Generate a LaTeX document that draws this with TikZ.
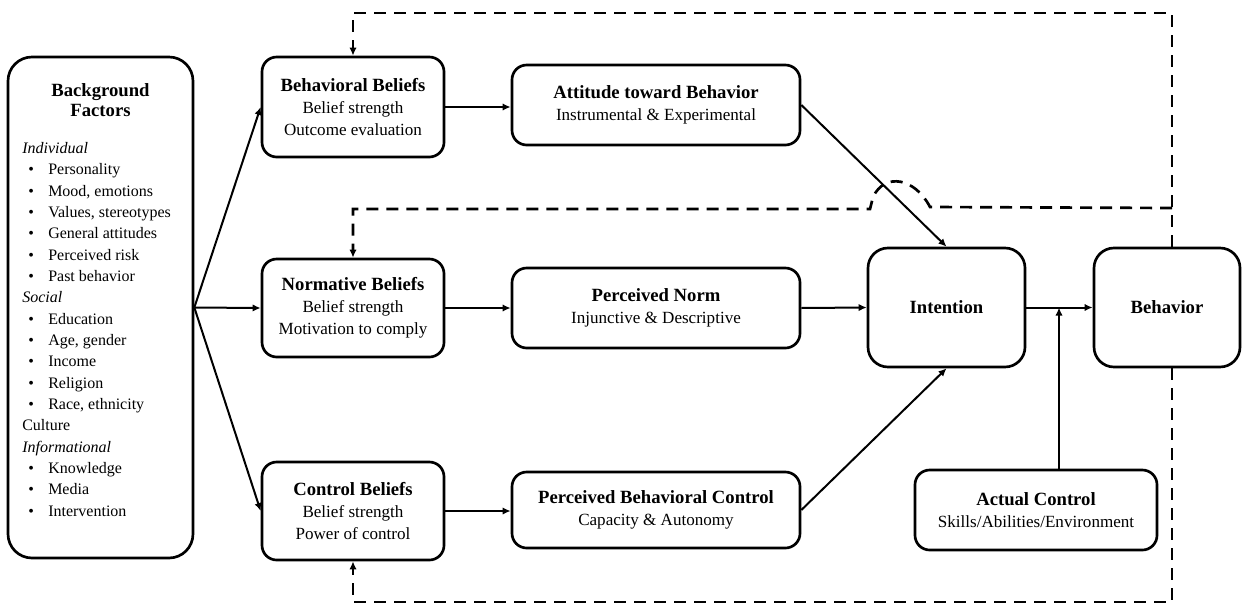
\documentclass[tikz,border=0pt]{standalone}
\usepackage{fontspec}
\setmainfont{Liberation Serif}
\usetikzlibrary{arrows.meta}
\newcommand{\bitem}[1]{\hspace*{4.5pt}\makebox[15pt][l]{\textbullet}#1}
\newcommand{\boxtitle}[1]{{\fontsize{14}{16.5}\selectfont\bfseries #1}}

\begin{document}
\begin{tikzpicture}[x=0.75pt, y=-0.75pt,
    >={Latex[length=6pt,width=5.5pt]},
    box/.style={draw, line width=2pt, rounded corners=11pt, align=center, inner sep=2pt, font=\fontsize{12.8}{16.5}\selectfont},
    link/.style={->, line width=1.5pt},
    fback/.style={->, line width=2pt, dash pattern=on 9pt off 6pt}]
    \useasboundingbox (0,0) rectangle (1244,607);

    \node[box, minimum width=138.75pt, minimum height=375.75pt, rounded corners=18pt] (bg) at (100.5,307.5) {};
    \node[align=center, font=\fontsize{14}{15}\selectfont\bfseries] (bgtitle) at (100.5,100) {Background\\Factors};
    \node[anchor=north west, inner sep=0pt, align=left, font=\fontsize{12}{16}\selectfont] (bglist) at (22,142) {%
        \textit{Individual}\\
        \bitem{Personality}\\
        \bitem{Mood, emotions}\\
        \bitem{Values, stereotypes}\\
        \bitem{General attitudes}\\
        \bitem{Perceived risk}\\
        \bitem{Past behavior}\\
        \textit{Social}\\
        \bitem{Education}\\
        \bitem{Age, gender}\\
        \bitem{Income}\\
        \bitem{Religion}\\
        \bitem{Race, ethnicity}\\
        Culture\\
        \textit{Informational}\\
        \bitem{Knowledge}\\
        \bitem{Media}\\
        \bitem{Intervention}};

    \node[box, minimum width=136.5pt, minimum height=75pt] (bb) at (353,107) {\boxtitle{Behavioral Beliefs}\\Belief strength\\Outcome evaluation};
    \node[box, minimum width=136.5pt, minimum height=73.5pt] (nb) at (353,308) {\boxtitle{Normative Beliefs}\\Belief strength\\Motivation to comply};
    \node[box, minimum width=136.5pt, minimum height=73.5pt] (cb) at (353,511) {\boxtitle{Control Beliefs}\\Belief strength\\Power of control};

    \node[box, minimum width=216pt, minimum height=60pt] (att) at (656,105) {\boxtitle{Attitude toward Behavior}\\Instrumental \& Experimental};
    \node[box, minimum width=216pt, minimum height=60pt] (pn) at (656,308) {\boxtitle{Perceived Norm}\\Injunctive \& Descriptive};
    \node[box, minimum width=216pt, minimum height=57pt] (pbc) at (656,510) {\boxtitle{Perceived Behavioral Control}\\Capacity \& Autonomy};

    \node[box, minimum width=117.75pt, minimum height=89.25pt, rounded corners=15pt] (int) at (946.5,307.5) {\boxtitle{Intention}};
    \node[box, minimum width=109.5pt, minimum height=89.25pt, rounded corners=15pt] (beh) at (1167,307.5) {\boxtitle{Behavior}};
    \node[box, minimum width=181.5pt, minimum height=60pt] (ac) at (1036,510) {\boxtitle{Actual Control}\\Skills/Abilities/Environment};

    \draw[link] (bg.east) -- (bb.west);
    \draw[link] (bg.east) -- (nb.west);
    \draw[link] (bg.east) -- (cb.west);

    \draw[link] (bb.east) -- (bb.east -| att.west);
    \draw[link] (nb.east) -- (nb.east -| pn.west);
    \draw[link] (cb.east) -- (cb.east -| pbc.west);

    \draw[link] (att.east) -- (int.north);
    \draw[link] (pn.east) -- (int.west);
    \draw[link] (pbc.east) -- (int.south);
    \draw[link] (int.east) -- (beh.west);

    \coordinate (join) at (1059,307.5);
    \draw[link] (join |- ac.north) -- (join);

    \coordinate (tr) at (1172,13);
    \coordinate (tl) at (353,13);
    \coordinate (mr) at (1172,208);
    \coordinate (ml) at (353,209);
    \coordinate (br) at (1172,602);
    \coordinate (bl) at (353,602);

    \draw[fback] (beh.north -| tr) -- (tr) -- (tl) -- (bb.north);
    \draw[fback] (mr) -- (930,207) .. controls (915,178) and (885,172) .. (873,197) -- (870,209) -- (ml) -- (nb.north);
    \draw[fback] (beh.south -| br) -- (br) -- (bl) -- (cb.south);
\end{tikzpicture}
\end{document}
